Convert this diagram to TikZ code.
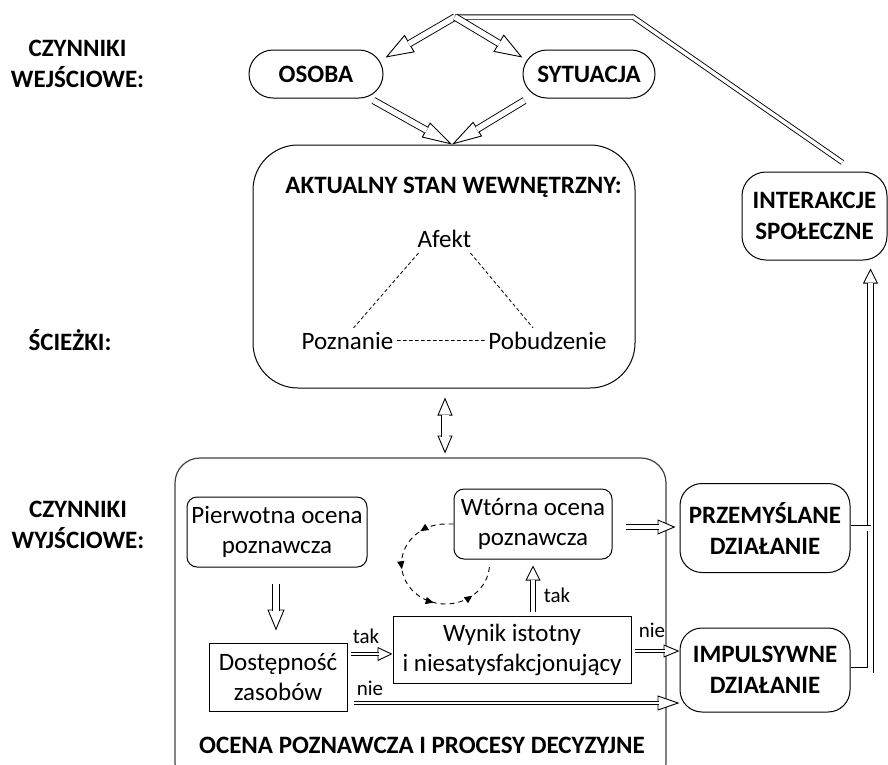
\documentclass[tikz,border=0pt]{standalone}
\usepackage{fontspec}
\setmainfont{Carlito}
\usetikzlibrary{arrows.meta,calc,decorations.markings}

% hollow block arrow: [shaft options]{from}{to}{head length}{head width}
\newcommand{\harrow}[5][]{%
  \draw[hhead={#4}{#5}] ($(#3)!#4pt+1pt!(#2)$) -- (#3);
  \draw[hshaft,#1] (#2) -- ($(#3)!#4pt-1pt!(#2)$);
}

\begin{document}
\begin{tikzpicture}[x=1pt,y=-1pt,line width=1pt,
  font=\fontsize{25}{30}\selectfont,
  box/.style={draw,align=center,inner sep=0pt},
  rbox/.style={box,rounded corners=#1},
  hd/.style={font=\fontsize{25}{31}\selectfont\bfseries,align=center},
  lbl/.style={font=\fontsize{21}{25}\selectfont,inner sep=0pt},
  thindash/.style={dash pattern=on 3.5pt off 2.5pt,line width=0.8pt},
  hshaft/.style={double,double distance=3pt,line width=0.9pt},
  hhead/.style 2 args={line width=0.9pt,-{Triangle[open,fill=white,length=#1pt,width=#2pt]}},
  loopline/.style={dash pattern=on 5pt off 4pt,line width=0.9pt,
    decoration={markings,
      mark=at position 0.17 with {\arrow{Triangle[length=8pt,width=7pt]}},
      mark=at position 0.39 with {\arrow{Triangle[length=8pt,width=7pt]}},
      mark=at position 0.63 with {\arrow{Triangle[length=8pt,width=7pt]}},
      mark=at position 0.83 with {\arrow{Triangle[length=8pt,width=7pt]}}},
    postaction=decorate}]
\useasboundingbox (0,0) rectangle (888,764);

% row labels
\node[hd] (wejscie) at (77.5,64) {CZYNNIKI\\WEJŚCIOWE:};
\node[hd,anchor=base] (sciezki) at (70,350) {ŚCIEŻKI:};
\node[hd] (wyjscie) at (78,525) {CZYNNIKI\\WYJŚCIOWE:};

% input
\node[rbox=24pt,hd,minimum width=134pt,minimum height=48pt] (osoba) at (316,74) {OSOBA};
\node[rbox=24pt,hd,minimum width=132pt,minimum height=48pt] (sytuacja) at (589,74) {SYTUACJA};

% internal state
\node[rbox=45pt,minimum width=382pt,minimum height=243pt] (stan) at (444,266.5) {};
\node[hd,anchor=base] (stantytul) at (453.5,193) {AKTUALNY STAN WEWNĘTRZNY:};
\node[anchor=base] (afekt) at (444.5,247) {Afekt};
\node[anchor=base] (poznanie) at (347.5,349) {Poznanie};
\node[anchor=base] (pobudzenie) at (547.5,349) {Pobudzenie};
\draw[thindash] ($(afekt.south)+(-26,2)$) -- ($(poznanie.north)+(6,0)$);
\draw[thindash] ($(afekt.south)+(26,2)$) -- ($(pobudzenie.north)+(-14.5,0)$);
\draw[thindash] (poznanie.east) -- (pobudzenie.west);

\node[rbox=24pt,hd,minimum width=145pt,minimum height=88pt] (interakcje) at (814.5,216) {INTERAKCJE\\SPOŁECZNE};

% appraisal
\node[draw=black!75,line width=1.2pt,rounded corners=25pt,minimum width=491pt,minimum height=330pt] (ocena) at (420.5,623) {};
\node[hd,anchor=base] (ocenatytul) at (422,753) {OCENA POZNAWCZA I PROCESY DECYZYJNE};
\node[rbox=10pt,minimum width=180pt,minimum height=70pt] (pierwotna) at (277,532) {Pierwotna ocena\\poznawcza};
\node[box,minimum width=138pt,minimum height=68pt] (dostepnosc) at (278,677) {Dostępność\\zasobów};
\node[box,minimum width=238pt,minimum height=67pt] (wynik) at (512,649.5) {Wynik istotny\\i niesatysfakcjonujący};
\node[rbox=10pt,minimum width=158pt,minimum height=70pt] (wtorna) at (533,524) {Wtórna ocena\\poznawcza};

% output
\node[rbox=22pt,hd,minimum width=170pt,minimum height=89pt] (przemyslane) at (765,528) {PRZEMYŚLANE\\DZIAŁANIE};
\node[rbox=22pt,hd,minimum width=170pt,minimum height=84pt] (impulsywne) at (765,670) {IMPULSYWNE\\DZIAŁANIE};

% connector points
\coordinate (wierzch) at (455,17);
\coordinate (zakret) at (633,17);
\coordinate (osobacel) at ($(osoba.north east)+(2,8)$);
\coordinate (sytcel) at ($(sytuacja.north west)+(0,8)$);
\coordinate (osobawyj) at ($(osoba.south east)+(-10,2)$);
\coordinate (sytwyj) at ($(sytuacja.south west)+(2,2)$);
\coordinate (stanwej) at ($(stan.north)+(8,0)$);
\coordinate (gora) at ($(stan.south)+(1,9)$);
\coordinate (dol) at ($(gora)+(0,56)$);
\coordinate (srodek) at ($(gora)!0.5!(dol)$);
\coordinate (pierwyj) at ($(pierwotna.south)+(-1,16)$);
\coordinate (dostwej) at ($(dostepnosc.north)+(-2,-12)$);
\coordinate (takstart) at ($(dostepnosc.east)+(3,-23)$);
\coordinate (takcel) at (takstart -| wynik.west);
\coordinate (niestart) at ($(dostepnosc.east)+(6,26)$);
\coordinate (niecel) at (niestart -| impulsywne.west);
\coordinate (wynikwyj) at ($(wynik.east)+(3,1.5)$);
\coordinate (wynikcel) at (wynikwyj -| impulsywne.west);
\coordinate (takdol) at ($(wynik.north)+(21,-4)$);
\coordinate (takgora) at ($(wtorna.south)+(0,6)$);
\coordinate (wtwyj) at ($(wtorna.east)+(13,3)$);
\coordinate (wtcel) at ($(przemyslane.west)+(-4,-1)$);
\coordinate (szyna) at ($(interakcje.south east)+(-17,8)$);

% feedback from social interactions
\draw[hshaft,double distance=3.5pt] ($(interakcje.north)+(28,-9)$) -- (zakret) -- (wierzch);
\harrow[double distance=5.5pt]{wierzch}{osobacel}{28}{20}
\harrow[double distance=5.5pt]{wierzch}{sytcel}{28}{20}
\harrow[double distance=5.5pt]{osobawyj}{stanwej}{30}{17}
\harrow[double distance=5.5pt]{sytwyj}{stanwej}{30}{17}
\harrow[double distance=7pt]{srodek}{gora}{18}{15}
\harrow[double distance=7pt]{srodek}{dol}{18}{15}

\harrow[double distance=6.5pt]{pierwyj}{dostwej}{21}{17}
\harrow[double distance=2.8pt]{takstart}{takcel}{15}{14}
\node[lbl,anchor=base] (tak1) at (366,643) {tak};
\harrow[double distance=2.8pt]{niestart}{niecel}{22}{15}
\node[lbl,anchor=base] (nie1) at (370,695) {nie};
\harrow[double distance=2.8pt]{wynikwyj}{wynikcel}{16}{13}
\node[lbl,anchor=base] (nie2) at (652,637) {nie};
\harrow[double distance=3.5pt]{takdol}{takgora}{15}{15}
\node[lbl,anchor=base] (tak2) at (557,602) {tak};
\harrow[double distance=3.5pt]{wtwyj}{wtcel}{18}{15}

\draw[loopline] (wtorna.west) -- ++(-8,0) arc[start angle=270,end angle=4,x radius=44,y radius=40];

% rails to social interactions
\draw[hhead={15}{15}] ($(szyna)+(0,16)$) -- (szyna);
\draw[hshaft,double distance=5pt] (impulsywne.east) -| ($(szyna)+(0,14)$);
\draw[hshaft,double distance=5pt] (przemyslane.east) -- (przemyslane.east -| szyna);
\end{tikzpicture}
\end{document}
